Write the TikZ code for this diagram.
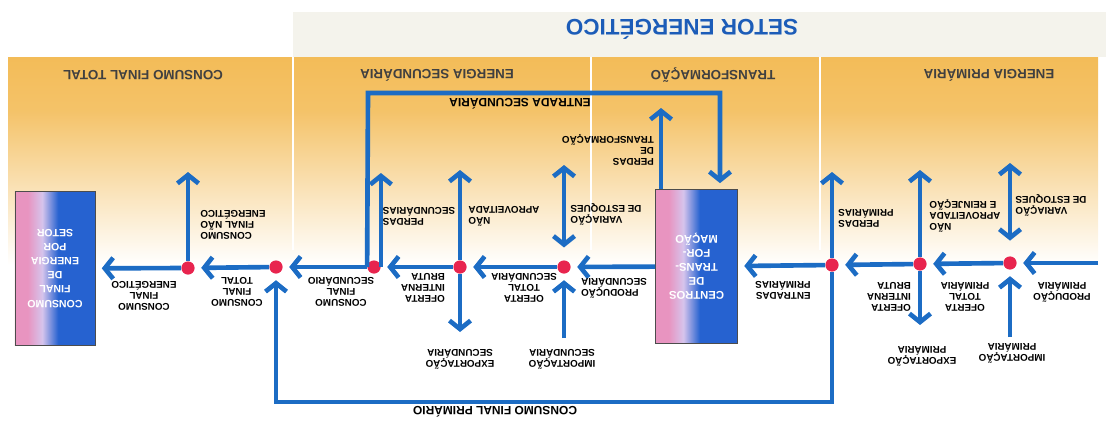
\documentclass[tikz,border=0pt]{standalone}
\usepackage{fontspec}
\setmainfont{Liberation Sans}
\usetikzlibrary{arrows.meta}

\definecolor{flowblue}{RGB}{28,108,196}
\definecolor{dotred}{RGB}{232,36,78}
\definecolor{bandorange}{RGB}{243,188,88}
\definecolor{bandgray}{RGB}{244,243,236}
\definecolor{titleblue}{RGB}{28,92,184}
\definecolor{boxpink}{RGB}{232,148,192}
\definecolor{boxmid}{RGB}{214,196,236}
\definecolor{boxblue}{RGB}{38,98,208}

% box shading: pink on the left, blue from the middle on
\pgfdeclarehorizontalshading{boxshade}{100bp}{color(0bp)=(boxpink); color(33bp)=(boxpink); color(42bp)=(boxmid); color(52bp)=(boxblue); color(100bp)=(boxblue)}
\pgfdeclareverticalshading{bandshade}{100bp}{color(0bp)=(white); color(25bp)=(white); color(42bp)=(bandorange!40); color(62bp)=(bandorange!90); color(75bp)=(bandorange); color(100bp)=(bandorange)}

\begin{document}
\begin{tikzpicture}[x=0.025cm, y=-0.025cm,
    flow/.style={draw=flowblue, line width=3.3pt, -{Straight Barb[length=6pt,width=15pt]}},
    into/.style={flow, shorten >=4.5pt},
    twoway/.style={flow, {Straight Barb[length=6pt,width=15pt]}-{Straight Barb[length=6pt,width=15pt]}},
    dot/.style={circle, fill=dotred, inner sep=0pt, minimum size=0.33cm},
    lbl/.style={rotate=180, inner sep=0pt, font=\fontsize{7}{7.7}\selectfont\bfseries},
    head/.style={rotate=180, inner sep=0pt, text=black!75, font=\fontsize{9.5}{11}\selectfont\bfseries},
    centre/.style={rotate=180, draw=black!70, line width=0.6pt, shading=boxshade, text=white,
      align=center, inner sep=0pt, minimum width=2.05cm, minimum height=3.83cm,
      font=\fontsize{8}{10}\selectfont\bfseries}]
  \useasboundingbox (0,0) rectangle (1106,421);

  % bands
  \fill[bandgray] (293,12) rectangle (1106,57);
  \shade[shading=bandshade] (8,57) rectangle (1098,265);
  \foreach \x in {293,591,820}
    \draw[white, line width=1.2pt] (\x,57) -- (\x,250);

  \node[rotate=180, text=titleblue, font=\fontsize{16}{18}\selectfont\bfseries] (titulo) at (682,29) {SETOR ENERGÉTICO};
  \foreach \n/\x/\t in {
    hPrim/989/ENERGIA PRIMÁRIA,
    hTrans/713/TRANSFORMAÇÃO,
    hSec/437/ENERGIA SECUNDÁRIA,
    hCons/143/CONSUMO FINAL TOTAL}
    \node[head] (\n) at (\x,75) {\t};

  % boxes and dots
  \node[centre] (centro) at (696.5,266.5) {CENTROS\\DE\\TRANS-\\FOR-\\MAÇÃO};
  \node[centre, minimum width=2cm, font=\fontsize{7.5}{10}\selectfont\bfseries] (setor) at (55,268.5)
    {CONSUMO\\FINAL\\DE\\ENERGIA\\POR\\SETOR};
  \foreach \n/\x/\y in {otp/1010/263, oibp/920/264, ep/832/265, ots/564/267,
      oibs/460/267, cfs/374/267, cft/276/267, cfe/188/268}
    \node[dot] (\n) at (\x,\y) {};

  % free ends
  \coordinate (prodP) at (1098,263);
  \coordinate (impP) at (1010,337);
  \coordinate (varP) at (1010,163);
  \coordinate (naP) at (920,170);
  \coordinate (expP) at (920,325);
  \coordinate (perP) at (832,172);
  \coordinate (cfpR) at (832,402);
  \coordinate (cfpL) at (276,402);
  \coordinate (perT) at (661,108);
  \coordinate (entR) at (720,93);
  \coordinate (entL) at (368,93);
  \coordinate (impS) at (564,338);
  \coordinate (varS) at (564,165);
  \coordinate (naS) at (460,170);
  \coordinate (expS) at (460,332);
  \coordinate (perS) at (380,173);
  \coordinate (cfN) at (188,172);

  % primary side
  \draw[into] (prodP) -- (otp);
  \draw[into] (impP) -- (otp);
  \draw[twoway, shorten >=11pt] (varP) -- (otp);
  \draw[into] (otp) -- (oibp);
  \draw[flow] (oibp) -- (naP);
  \draw[flow] (oibp) -- (expP);
  \draw[into] (oibp) -- (ep);
  \draw[flow] (ep) -- (perP);
  \draw[into] (ep) -- (centro);
  \draw[into] (ep) -- (cfpR) -- (cfpL) -- (cft);
  % transformation and secondary side
  \draw[flow] (centro.south -| perT) -- (perT);
  \draw[into] (cfs.west) -- (entL) -- (entR) -- (centro.south -| entR);
  \draw[into] (centro) -- (ots);
  \draw[into] (impS) -- (ots);
  \draw[twoway, shorten >=9pt] (varS) -- (ots);
  \draw[into] (ots) -- (oibs);
  \draw[flow] (oibs) -- (naS);
  \draw[flow] (oibs) -- (expS);
  \draw[into] (oibs) -- (cfs);
  \draw[flow] (cfs.east) -- (cfs.east |- perS);
  % final consumption
  \draw[into] (cfs) -- (cft);
  \draw[into] (cft) -- (cfe);
  \draw[flow] (cfe) -- (cfN);
  \draw[into] (cfe) -- (setor);

  % labels
  \node[lbl, font=\fontsize{8.5}{10}\selectfont\bfseries] (entl) at (520,104) {ENTRADA SECUNDÁRIA};
  \node[lbl, font=\fontsize{8.5}{10}\selectfont\bfseries] (cfpl) at (495,412) {CONSUMO FINAL PRIMÁRIO};
  \foreach \n/\x/\y/\a/\t in {
    prodPl/1062/292/center/{PRODUÇÃO\\PRIMÁRIA},
    impPl/1012/353/center/{IMPORTAÇÃO\\PRIMÁRIA},
    varPl/1051/205/right/{VARIAÇÃO\\DE ESTOQUES},
    otPl/965/297/center/{OFERTA\\TOTAL\\PRIMÁRIA},
    naPl/965/216/right/{NÃO\\APROVEITADA\\E REINJEÇÃO},
    expPl/922/356/center/{EXPORTAÇÃO\\PRIMÁRIA},
    oibPl/889/297/left/{OFERTA\\INTERNA\\BRUTA},
    perPl/866/218/right/{PERDAS\\PRIMÁRIAS},
    entPl/783/290/left/{ENTRADAS\\PRIMÁRIAS},
    perTl/608/150/left/{PERDAS\\DE\\TRANSFORMAÇÃO},
    prodSl/614/288/right/{PRODUÇÃO\\SECUNDÁRIA},
    varSl/606/214/right/{VARIAÇÃO\\DE ESTOQUES},
    impSl/562/359/center/{IMPORTAÇÃO\\SECUNDÁRIA},
    otSl/524/288/center/{OFERTA\\TOTAL\\SECUNDÁRIA},
    naSl/504/216/right/{NÃO\\APROVEITADA},
    expSl/460/359/center/{EXPORTAÇÃO\\SECUNDÁRIA},
    oibSl/423/288/left/{OFERTA\\INTERNA\\BRUTA},
    perSl/419/216/right/{PERDAS\\SECUNDÁRIAS},
    cfSl/341/292/center/{CONSUMO\\FINAL\\SECUNDÁRIO},
    cfTl/237/292/center/{CONSUMO\\FINAL\\TOTAL},
    cfNl/233/225/right/{CONSUMO\\FINAL NÃO\\ENERGÉTICO},
    cfEl/144/296/center/{CONSUMO\\FINAL\\ENERGÉTICO}}
    \node[lbl, align=\a] (\n) at (\x,\y) {\t};
\end{tikzpicture}
\end{document}
